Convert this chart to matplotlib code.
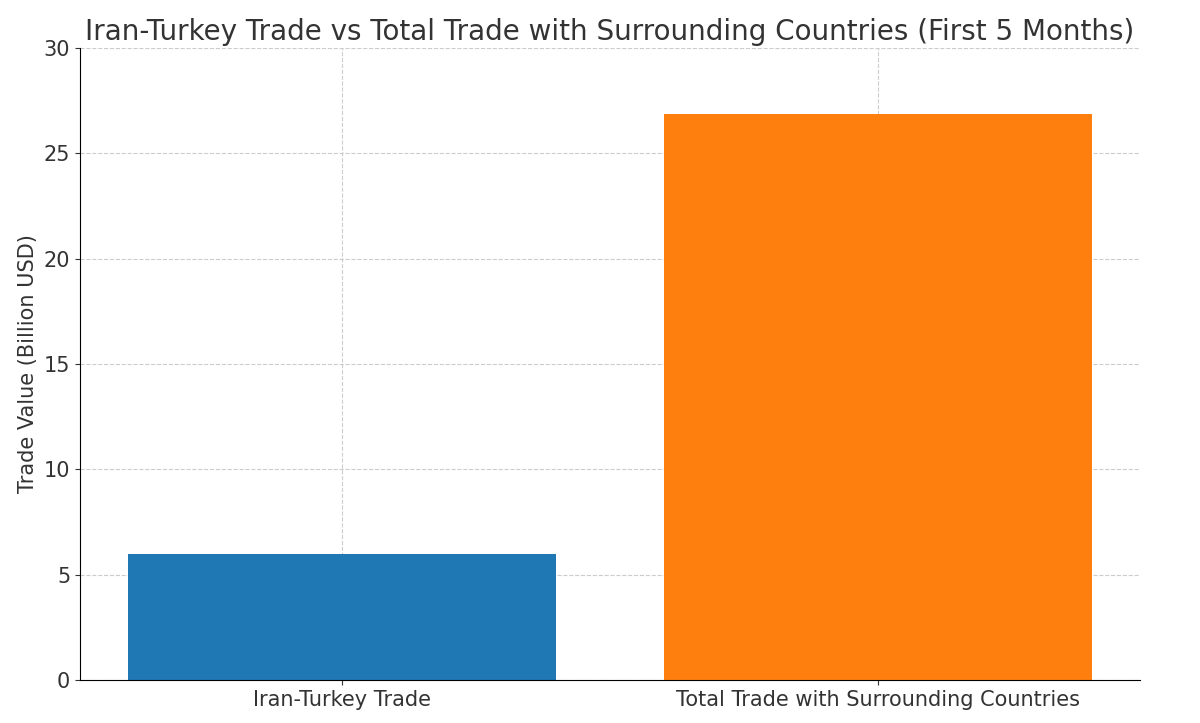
import matplotlib
matplotlib.use("Agg")
import matplotlib.pyplot as plt

categories = ["Iran-Turkey Trade", "Total Trade with Surrounding Countries"]
values = [6.0, 26.85]
colors = ["#1f77b4", "#ff7f0e"]

fig = plt.figure(figsize=(12, 7.23), dpi=100)
ax = fig.add_axes([80/1200, 1-680/723, 1060/1200, 632/723])
ax.bar(categories, values, color=colors, width=0.8, zorder=2)
ax.set_ylim(0, 30)
ax.set_ylabel("Trade Value (Billion USD)", fontsize=15, color="#333333")
ax.set_title("Iran-Turkey Trade vs Total Trade with Surrounding Countries (First 5 Months)",
             fontsize=20, color="#333333", pad=6)
ax.tick_params(labelsize=15, colors="#333333")
ax.grid(True, linestyle="--", color="#cccccc", linewidth=0.8, zorder=3)
ax.spines["top"].set_visible(False)
ax.spines["right"].set_visible(False)
fig.savefig("out.png", dpi=100)
